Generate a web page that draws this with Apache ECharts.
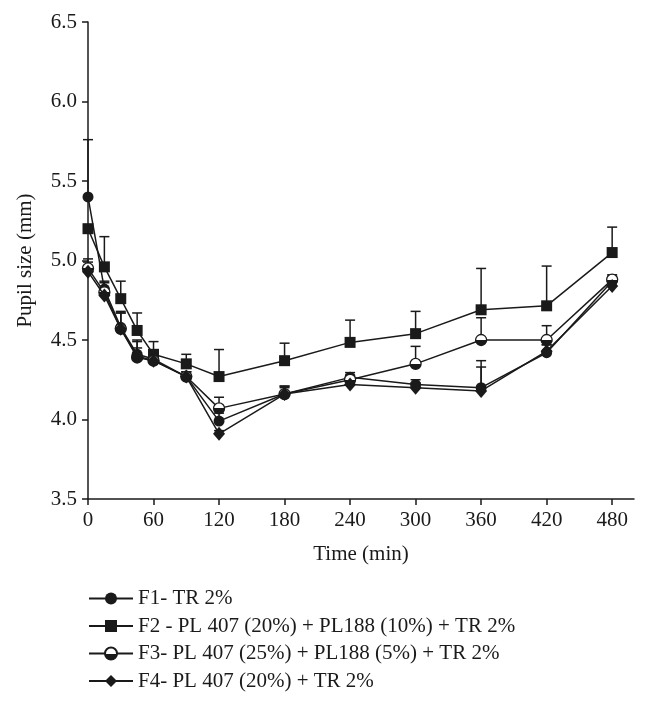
<!DOCTYPE html>
<html>
<head>
<meta charset="utf-8">
<script src="https://cdn.jsdelivr.net/npm/echarts@6/dist/echarts.min.js"></script>
<style>
html,body{margin:0;padding:0;background:#fff;}
#chart{width:648px;height:705px;}
</style>
</head>
<body>
<div id="chart"></div>
<script>
// ---- data ----
var times = [0, 15, 30, 45, 60, 90, 120, 180, 240, 300, 360, 420, 480];
var xTicks = [0, 60, 120, 180, 240, 300, 360, 420, 480];
var seriesNames = [
  'F1- TR 2%',
  'F2 - PL 407 (20%) + PL188 (10%) + TR 2%',
  'F3- PL 407 (25%) + PL188 (5%) + TR 2%',
  'F4- PL 407 (20%) + TR 2%'
];
var f1 = [5.40, 4.82, 4.58, 4.41, 4.38, 4.27, 3.99, 4.16, 4.265, 4.22, 4.20, 4.42, 4.87];
var f2 = [5.20, 4.96, 4.76, 4.56, 4.41, 4.35, 4.27, 4.37, 4.485, 4.54, 4.69, 4.715, 5.05];
var f3 = [4.95, 4.80, 4.57, 4.39, 4.37, 4.27, 4.07, 4.16, 4.25, 4.35, 4.50, 4.50, 4.88];
var f4 = [4.93, 4.78, 4.57, 4.40, 4.37, 4.27, 3.91, 4.16, 4.22, 4.20, 4.18, 4.43, 4.84];
var f1Err = [0.36, 0.05, 0.10, 0.09, 0.05, 0.03, 0.05, 0.05, 0.03, 0.03, 0.17, 0.05, 0.03];
var f2Err = [null, 0.19, 0.11, 0.11, 0.08, 0.06, 0.17, 0.11, 0.14, 0.14, 0.26, 0.25, 0.16];
var f3Err = [0.06, 0.06, 0.10, 0.10, 0.05, 0.03, 0.07, 0.05, 0.03, 0.11, 0.14, 0.09, 0.03];
var f4Err = [0.06, 0.04, 0.10, 0.05, 0.04, 0.03, 0.02, 0.04, 0.03, 0.03, 0.15, 0.04, 0.03];

var FONT = '"Liberation Serif", "DejaVu Serif", serif';
var FS = 21;
var INK = '#1a1a1a';

var chart = echarts.init(document.getElementById('chart'), null, {renderer: 'canvas'});

function pairs(vals) {
  return times.map(function (t, i) { return [t, vals[i]]; });
}
function errData(vals, errs) {
  var out = [];
  times.forEach(function (t, i) {
    if (errs[i] != null) out.push([t, vals[i], vals[i] + errs[i]]);
  });
  return out;
}
function renderErr(params, api) {
  var x = api.value(0), m = api.value(1), u = api.value(2);
  var p0 = api.coord([x, m]);
  var p1 = api.coord([x, u]);
  var hw = 5;
  return {
    type: 'group',
    children: [
      {type: 'line', shape: {x1: p0[0], y1: p0[1], x2: p1[0], y2: p1[1]}, style: {stroke: INK, lineWidth: 1.5}},
      {type: 'line', shape: {x1: p1[0] - hw, y1: p1[1], x2: p1[0] + hw, y2: p1[1]}, style: {stroke: INK, lineWidth: 1.5}}
    ]
  };
}

var halfFill = new echarts.graphic.LinearGradient(0, 0, 0, 1, [
  {offset: 0, color: '#ffffff'},
  {offset: 0.5, color: '#ffffff'},
  {offset: 0.5, color: INK},
  {offset: 1, color: INK}
]);

var symbols = ['circle', 'rect', 'circle', 'diamond'];
var sizes = [11, 11, 11, [12, 14]];
var vals = [f1, f2, f3, f4];
var errs = [f1Err, f2Err, f3Err, f4Err];

var series = [];
vals.forEach(function (v, k) {
  series.push({
    type: 'custom',
    name: 'err' + k,
    renderItem: renderErr,
    data: errData(v, errs[k]),
    encode: {x: 0, y: [1, 2]},
    z: 1,
    silent: true
  });
});
vals.forEach(function (v, k) {
  var itemStyle = {color: INK};
  if (k === 2) itemStyle = {color: halfFill, borderColor: INK, borderWidth: 1.3};
  series.push({
    type: 'line',
    name: seriesNames[k],
    data: pairs(v),
    symbol: symbols[k],
    symbolSize: sizes[k],
    showAllSymbol: true,
    lineStyle: {color: INK, width: 1.5},
    itemStyle: itemStyle,
    z: 3 + k,
    animation: false
  });
});

chart.setOption({
  animation: false,
  backgroundColor: '#ffffff',
  grid: {left: 88, top: 22, right: 14, bottom: 206, containLabel: false},
  xAxis: {
    type: 'value',
    min: 0, max: 500, interval: 60,
    name: 'Time (min)',
    nameLocation: 'middle',
    nameGap: 45,
    nameTextStyle: {fontFamily: FONT, fontSize: FS, color: INK},
    axisLine: {lineStyle: {color: INK, width: 1.5}},
    axisTick: {show: true, inside: false, length: 6, lineStyle: {color: INK, width: 1.5}, customValues: xTicks},
    axisLabel: {
      fontFamily: FONT, fontSize: FS, color: INK, margin: 11, customValues: xTicks,
      formatter: function (v) { return v > 480 ? '' : String(v); }
    },
    splitLine: {show: false}
  },
  yAxis: {
    type: 'value',
    min: 3.5, max: 6.5, interval: 0.5,
    name: 'Pupil size (mm)',
    nameLocation: 'middle',
    nameGap: 52,
    nameRotate: 90,
    nameTextStyle: {fontFamily: FONT, fontSize: FS, color: INK},
    axisLine: {show: true, lineStyle: {color: INK, width: 1.5}},
    axisTick: {show: true, inside: false, length: 6, lineStyle: {color: INK, width: 1.5}},
    axisLabel: {
      fontFamily: FONT, fontSize: FS, color: INK, margin: 11,
      formatter: function (v) { return v.toFixed(1); }
    },
    splitLine: {show: false}
  },
  legend: {
    data: seriesNames,
    orient: 'vertical',
    left: 88,
    top: 588,
    padding: 0,
    itemWidth: 44,
    itemHeight: 15,
    itemGap: 6.5,
    textStyle: {fontFamily: FONT, fontSize: FS, color: INK},
    selectedMode: false
  },
  series: series
});
</script>
</body>
</html>
